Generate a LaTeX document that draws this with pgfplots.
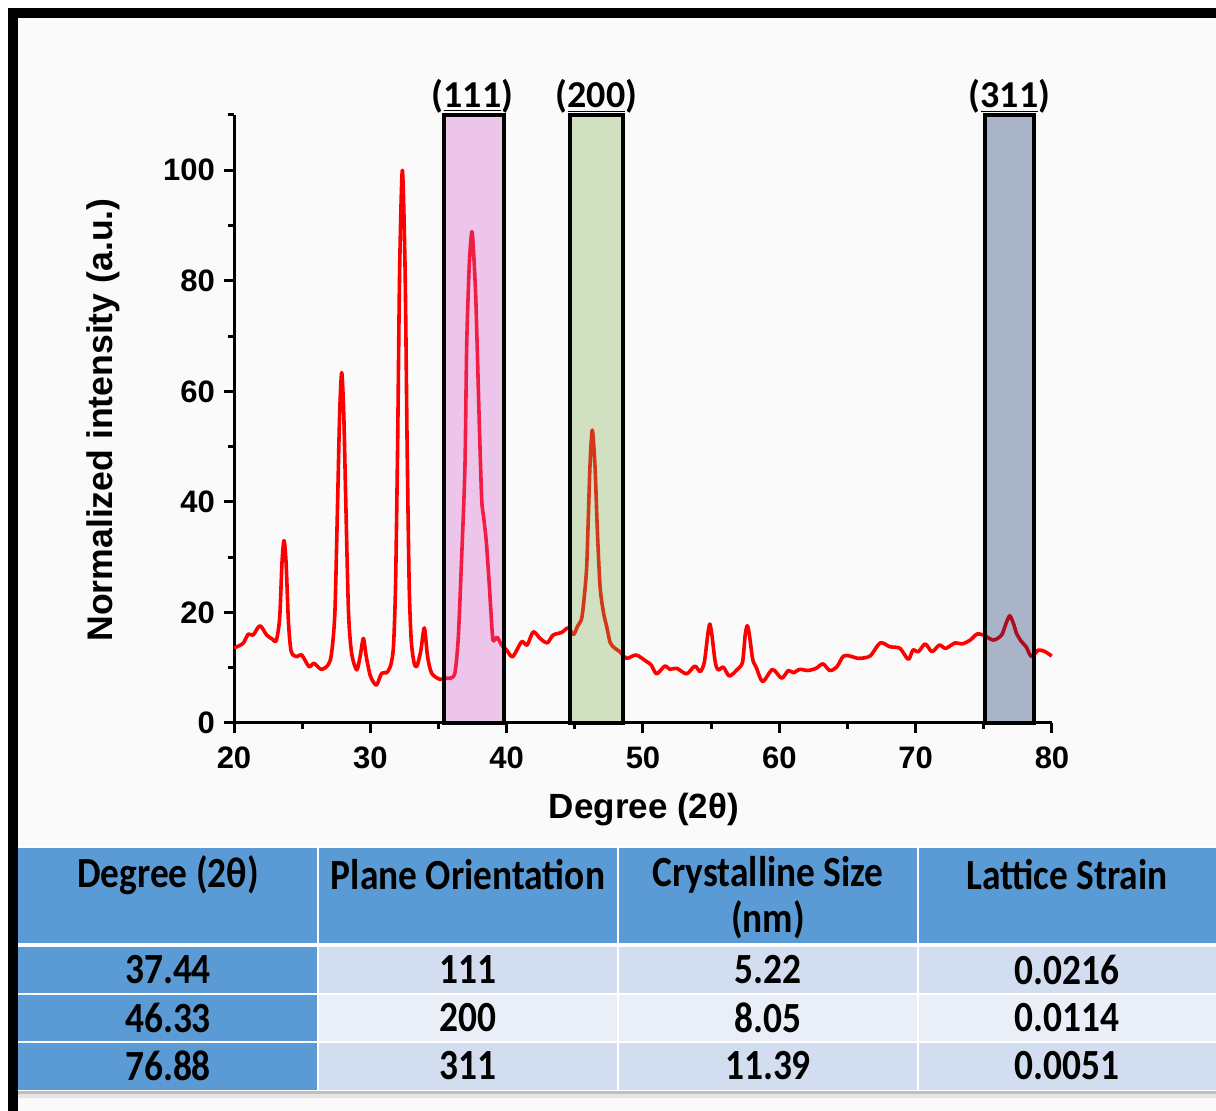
\documentclass[border=0pt]{standalone}
\usepackage{pgfplots}
\pgfplotsset{compat=1.18}
\usepackage{fontspec}
\setmainfont{Liberation Sans}
\newfontfamily\tabfont[FakeStretch=0.87]{Carlito}
\newfontfamily\lblfont{Carlito}
\definecolor{hdrblue}{HTML}{5B9BD5}
\definecolor{bandA}{HTML}{D2DEEF}
\definecolor{bandB}{HTML}{EAEFF7}
\definecolor{pinkbox}{RGB}{216,90,204}
\definecolor{greenbox}{RGB}{125,173,76}
\definecolor{navybox}{RGB}{6,40,100}
\begin{document}
\begin{tikzpicture}
\path[use as bounding box] (0,0) rectangle (608pt,-555.5pt);
\begin{scope}[x=0.5pt,y=-0.5pt]
  \fill[white] (0,0) rectangle (1216,1111);
  \fill[black!2] (18,18) rectangle (1216,1111);
  \fill[black] (8,8) rectangle (1216,18);
  \fill[black] (8,8) rectangle (18,1111);
\end{scope}
\begin{axis}[
  at={(117pt,-361.5pt)}, anchor=south west,
  scale only axis, width=409pt, height=304pt,
  xmin=20, xmax=80, ymin=0, ymax=110,
  axis lines*=left, clip=false,
  axis line style={line width=1.5pt},
  every tick/.style={black, line width=1.5pt},
  tick align=outside,
  major tick length=5pt, minor tick length=3pt,
  xtick={20,30,40,50,60,70,80},
  minor xtick={25,35,45,55,65,75},
  ytick={0,20,40,60,80,100},
  minor ytick={10,30,50,70,90,110},
  /pgf/number format/assume math mode=true,
  ticklabel style={font=\fontsize{15.5}{18}\selectfont\bfseries},
  xticklabel style={yshift=-3.5pt},
  yticklabel style={xshift=-1pt},
]
\addplot[red, line width=1.8pt, smooth, tension=0.45, line join=round] coordinates {
(20.0,13.6) (20.4,14.0) (20.7,14.5) (21.05,16.1) (21.4,15.9) (21.9,17.6) (22.4,15.9) (22.8,15.2) (23.1,14.9)
(23.35,19) (23.52,29) (23.67,33.0) (23.82,29) (24.0,18) (24.2,12.9) (24.6,12.0) (24.97,12.3) (25.5,10.2)
(25.87,10.8) (26.4,9.7) (26.9,10.5) (27.15,12.5) (27.4,20) (27.6,40) (27.75,56) (27.9,63.4) (28.05,56)
(28.2,40) (28.4,20) (28.63,12.6) (29.0,9.6) (29.25,12) (29.49,15.3) (29.7,12) (29.98,8.7) (30.2,7.5)
(30.47,6.9) (30.83,9.0) (31.2,9.1) (31.5,10.5) (31.7,14) (31.85,25) (32.0,50) (32.15,82) (32.35,100)
(32.55,82) (32.7,50) (32.85,25) (33.0,15) (33.2,11) (33.4,10.2) (33.7,13) (33.96,17.2) (34.2,12)
(34.5,9.0) (35.1,7.9) (35.6,8.1) (35.84,8.1) (36.2,9.0) (36.45,15.4) (36.7,30) (36.94,46.4) (37.07,68.5)
(37.26,83) (37.45,88.9) (37.6,84) (37.75,75.7) (38.0,53.6) (38.17,40.4) (38.3,37.5) (38.5,33) (38.7,26)
(38.85,20) (39.0,15.0) (39.3,15.5) (39.63,14.1) (40.0,13.2) (40.44,12.0) (41.1,14.7) (41.5,14.1)
(41.95,16.5) (42.45,15.3) (42.98,14.5) (43.4,15.9) (44.04,16.4) (44.5,17.2) (44.9,16.0) (45.2,17.5)
(45.5,18.9) (45.7,23) (45.87,28.3) (46.0,38) (46.11,46.4) (46.28,53.0) (46.48,46.4) (46.65,35)
(46.85,24.7) (47.1,20) (47.34,17.4) (47.6,14.5) (47.95,13.5) (48.3,12.9) (48.8,11.7) (49.5,12.3)
(50.27,11.1) (50.6,10.5) (51.0,8.9) (51.6,10.3) (51.98,9.7) (52.47,9.9) (53.2,8.9) (53.8,10.3) (54.2,9.3)
(54.5,11) (54.75,16) (54.9,17.9) (55.05,16) (55.3,11) (55.52,9.6) (55.9,10.1) (56.33,8.5) (56.92,9.7)
(57.3,11) (57.5,16) (57.65,17.6) (57.8,16) (58.05,11.5) (58.3,10.1) (58.78,7.5) (59.5,9.7) (60.17,8.1)
(60.66,9.5) (61.03,9.1) (61.5,9.7) (62.1,9.5) (62.7,9.9) (63.2,10.7) (63.7,9.5) (64.2,10.1) (64.7,12.1)
(65.2,12.1) (65.8,11.7) (66.65,12.1) (67.4,14.5) (68.1,13.8) (68.85,13.5) (69.46,11.5) (69.8,13.2)
(70.2,12.9) (70.7,14.3) (71.2,12.9) (71.74,14.1) (72.2,13.5) (72.9,14.5) (73.4,14.3) (74.0,15.0)
(74.5,16.1) (74.97,15.9) (75.7,15.0) (76.3,15.9) (76.6,17.8) (76.9,19.4) (77.2,17.8) (77.4,16.2)
(77.77,14.7) (78.1,13.8) (78.5,12.0) (79.0,13.2) (79.5,12.9) (79.98,12.1)
};
\draw[black, line width=2pt, fill=pinkbox, fill opacity=0.33] (axis cs:35.4,0) rectangle (axis cs:39.8,110);
\draw[black, line width=2pt, fill=greenbox, fill opacity=0.33] (axis cs:44.65,0) rectangle (axis cs:48.53,110);
\draw[black, line width=2pt, fill=navybox, fill opacity=0.33] (axis cs:75.09,0) rectangle (axis cs:78.68,110);
\node[anchor=south, inner sep=0pt, yshift=0.5pt, font=\lblfont\bfseries\fontsize{19}{21}\selectfont] at (axis cs:37.5,110) {(\underline{111})};
\node[anchor=south, inner sep=0pt, yshift=0.5pt, font=\lblfont\bfseries\fontsize{19}{21}\selectfont] at (axis cs:46.59,110) {(\underline{200})};
\node[anchor=south, inner sep=0pt, yshift=0.5pt, font=\lblfont\bfseries\fontsize{19}{21}\selectfont] at (axis cs:76.88,110) {(\underline{311})};
\end{axis}
\begin{scope}[x=0.5pt,y=-0.5pt]
  \node[rotate=90, font=\bfseries\fontsize{17.8}{20}\selectfont] at (103,420) {Normalized intensity (a.u.)};
  \node[font=\bfseries\fontsize{17.5}{20}\selectfont] at (644,810) {Degree (2θ)};
  % table
  \fill[black!25] (18,1090) rectangle (1216,1094);
  \fill[black!10] (18,1094) rectangle (1216,1098);
  \fill[white] (18,846) rectangle (1216,1091);
  \fill[hdrblue] (18,848) rectangle (1216,943);
  \fill[hdrblue] (18,947) rectangle (317,993);
  \fill[hdrblue] (18,995) rectangle (317,1041);
  \fill[hdrblue] (18,1043) rectangle (317,1090);
  \fill[bandA] (319,947) rectangle (617,993);
  \fill[bandA] (619,947) rectangle (917,993);
  \fill[bandA] (919,947) rectangle (1216,993);
  \fill[bandB] (319,995) rectangle (617,1041);
  \fill[bandB] (619,995) rectangle (917,1041);
  \fill[bandB] (919,995) rectangle (1216,1041);
  \fill[bandA] (319,1043) rectangle (617,1090);
  \fill[bandA] (619,1043) rectangle (917,1090);
  \fill[bandA] (919,1043) rectangle (1216,1090);
  \fill[white] (317,848) rectangle (319,943);
  \fill[white] (617,848) rectangle (619,943);
  \fill[white] (917,848) rectangle (919,943);
  \begin{scope}[every node/.style={font=\tabfont\bfseries\fontsize{21.5}{24}\selectfont, inner sep=0pt}]
    \node at (168,875) {Degree (2θ)};
    \node at (468,875) {Plane Orientation};
    \node at (768,875) {Crystalline Size};
    \node at (768,920) {(nm)};
    \node at (1067,875) {Lattice Strain};
    \node at (168,970) {37.44};
    \node at (468,970) {111};
    \node at (768,970) {5.22};
    \node at (1067,970) {0.0216};
    \node at (168,1018) {46.33};
    \node at (468,1018) {200};
    \node at (768,1018) {8.05};
    \node at (1067,1018) {0.0114};
    \node at (168,1066) {76.88};
    \node at (468,1066) {311};
    \node at (768,1066) {11.39};
    \node at (1067,1066) {0.0051};
  \end{scope}
\end{scope}
\end{tikzpicture}
\end{document}
